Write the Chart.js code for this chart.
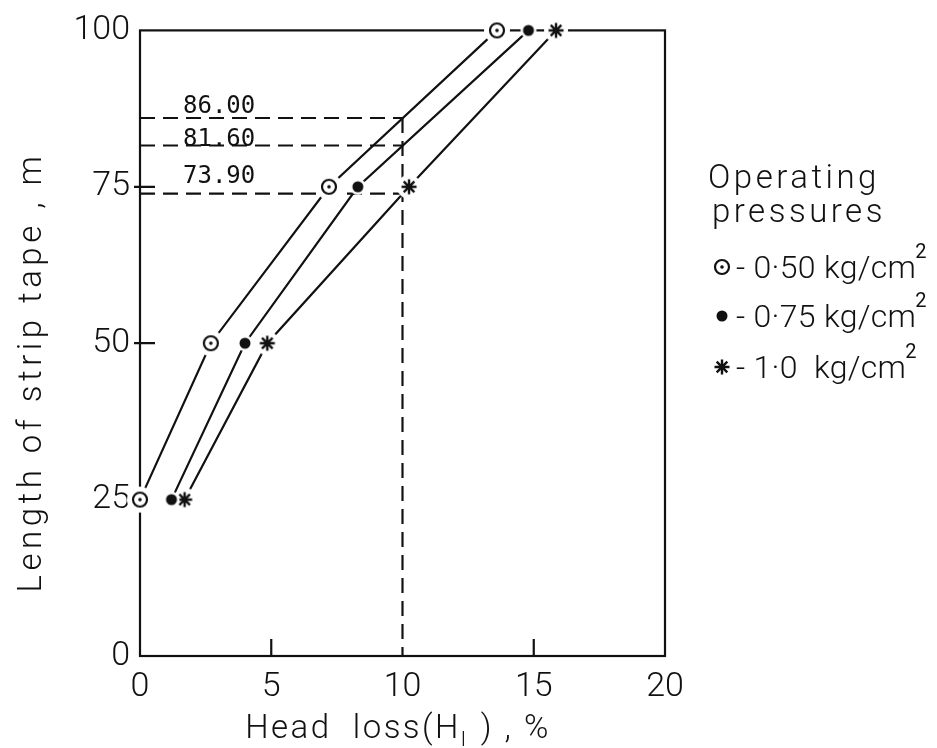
<!DOCTYPE html>
<html>
<head>
<meta charset="utf-8">
<script src="https://cdn.jsdelivr.net/npm/chart.js@4"></script>
<style>
  body { margin: 0; background: #fff; }
  #wrap { width: 937px; height: 748px; position: relative; }
</style>
</head>
<body>
<div id="wrap"><canvas id="headLossChart"></canvas></div>
<script>
// lateral length (m) and head loss (%) at each operating pressure
const lengthM = [25, 50, 75, 100];
const loss050 = [0, 2.7, 7.2, 13.6];
const loss075 = [1.2, 4.0, 8.3, 14.8];
const loss100 = [1.7, 4.85, 10.25, 15.85];

const readLoss = 10;
const readLengths = [86.00, 81.60, 73.90];
const readLabels = ["86.00", "81.60", "73.90"];

const xTicks = [0, 5, 10, 15, 20];
const yTicks = [0, 25, 50, 75, 100];
const legendTitle = ["Operating", "pressures"];
const legendLabels = ["- 0\u00b750 kg/cm", "- 0\u00b775 kg/cm", "- 1\u00b70  kg/cm"];

const ink = "#111";
const textFont = "Roboto, 'DejaVu Sans', sans-serif";

// marker images, each with a white halo so lines stop short of the symbol
function makeMarker(kind, halo) {
  const c = document.createElement("canvas");
  c.width = 28; c.height = 28;
  const g = c.getContext("2d");
  g.fillStyle = "#fff";
  g.beginPath(); g.arc(14, 14, halo, 0, Math.PI * 2); g.fill();
  g.strokeStyle = ink; g.fillStyle = ink; g.lineWidth = 2.2;
  if (kind === "dot") {
    g.beginPath(); g.arc(14, 14, 7, 0, Math.PI * 2); g.stroke();
    g.beginPath(); g.arc(14, 14, 1.8, 0, Math.PI * 2); g.fill();
  } else if (kind === "disc") {
    g.beginPath(); g.arc(14, 14, 5.5, 0, Math.PI * 2); g.fill();
  } else {
    g.lineWidth = 2.4;
    g.beginPath();
    for (let a = 0; a < 4; a++) {
      const t = a * Math.PI / 4;
      g.moveTo(14 - 7.5 * Math.cos(t), 14 - 7.5 * Math.sin(t));
      g.lineTo(14 + 7.5 * Math.cos(t), 14 + 7.5 * Math.sin(t));
    }
    g.stroke();
  }
  return c;
}
const markers = [makeMarker("dot", 13), makeMarker("disc", 8), makeMarker("star", 12)];

function series(xs) {
  return lengthM.map((y, i) => ({ x: xs[i], y: y }));
}

const seriesSets = [loss050, loss075, loss100].map((xs, i) => ({
  label: legendLabels[i],
  data: series(xs),
  showLine: true,
  borderColor: ink,
  borderWidth: 2.2,
  pointStyle: markers[i],
  pointRadius: 7,
  clip: false
}));

const dashStyle = { showLine: true, borderColor: ink, borderWidth: 2.2, borderDash: [15, 8], pointRadius: 0 };
const readSets = readLengths.map(v => Object.assign({
  data: [{ x: 0, y: v }, { x: readLoss, y: v }]
}, dashStyle));
readSets.push(Object.assign({
  data: [{ x: readLoss, y: Math.max(...readLengths) }, { x: readLoss, y: 0 }]
}, dashStyle));

// frame and the short inward ticks
const framePlugin = {
  id: "frame",
  beforeDatasetsDraw(chart) {
    const { ctx, chartArea: a, scales } = chart;
    ctx.save();
    ctx.strokeStyle = ink;
    ctx.lineWidth = 2.2;
    ctx.strokeRect(a.left, a.top, a.right - a.left, a.bottom - a.top);
    ctx.beginPath();
    [5, 15].forEach(v => {
      const px = scales.x.getPixelForValue(v);
      ctx.moveTo(px, a.bottom); ctx.lineTo(px, a.bottom - 17);
    });
    [50, 75].forEach(v => {
      const py = scales.y.getPixelForValue(v);
      ctx.moveTo(a.left - 6, py); ctx.lineTo(a.left + 15, py);
    });
    ctx.stroke();
    ctx.restore();
  }
};

// axis titles, reading labels and the pressure key
const annotatePlugin = {
  id: "annotate",
  afterDraw(chart) {
    const { ctx, chartArea: a, scales } = chart;
    ctx.save();
    ctx.fillStyle = ink;

    // reading values
    ctx.font = "24px 'DejaVu Sans Mono', monospace";
    ctx.textAlign = "left";
    ctx.textBaseline = "alphabetic";
    const lift = [5, 0, 11];
    readLengths.forEach((v, i) => {
      ctx.fillText(readLabels[i], a.left + 43, scales.y.getPixelForValue(v) - lift[i]);
    });

    // y title
    ctx.font = "300 33px " + textFont;
    ctx.letterSpacing = "4.5px";
    ctx.save();
    ctx.translate(33, 372);
    ctx.rotate(-Math.PI / 2);
    ctx.textAlign = "center";
    ctx.textBaseline = "middle";
    ctx.fillText("Length of strip tape , m", 0, 0);
    ctx.restore();

    // x title with subscript
    ctx.letterSpacing = "2.5px";
    const base = 738;
    const p1 = "Head  loss(H", p2 = "l", p3 = " ) , %";
    ctx.textAlign = "left";
    ctx.font = "300 33px " + textFont;
    const w1 = ctx.measureText(p1).width;
    const w3 = ctx.measureText(p3).width;
    ctx.font = "300 21px " + textFont;
    const w2 = ctx.measureText(p2).width;
    let x = 397 - (w1 + w2 + w3) / 2;
    ctx.font = "300 33px " + textFont;
    ctx.fillText(p1, x, base);
    x += w1;
    ctx.font = "300 21px " + textFont;
    ctx.fillText(p2, x, base + 8);
    x += w2 + 2;
    ctx.font = "300 33px " + textFont;
    ctx.fillText(p3, x, base);

    // key
    ctx.font = "300 33px " + textFont;
    ctx.letterSpacing = "3.5px";
    ctx.fillText(legendTitle[0], a.right + 43, 188);
    ctx.fillText(legendTitle[1], a.right + 47, 222);
    const rowY = [267, 316, 367];
    legendLabels.forEach((t, i) => {
      const m = markers[i];
      ctx.drawImage(m, a.right + 57 - m.width / 2, rowY[i] - m.height / 2);
      ctx.letterSpacing = "0.3px";
      ctx.font = "300 32px " + textFont;
      ctx.fillText(t, a.right + 71, rowY[i] + 11);
      const tw = ctx.measureText(t).width;
      ctx.font = "400 20px " + textFont;
      ctx.fillText("2", a.right + 71 + tw - 1, rowY[i] - 9);
    });
    ctx.restore();
  }
};

const tickFont = { family: textFont, size: 34, weight: 300 };

new Chart(document.getElementById("headLossChart"), {
  type: "scatter",
  data: { datasets: seriesSets.concat(readSets) },
  options: {
    responsive: true,
    maintainAspectRatio: false,
    animation: false,
    layout: { padding: { top: 23, right: 272, left: 0, bottom: 0 } },
    plugins: { legend: { display: false }, tooltip: { enabled: false } },
    scales: {
      x: {
        type: "linear",
        min: 0, max: 20,
        afterBuildTicks(scale) { scale.ticks = xTicks.map(v => ({ value: v })); },
        afterFit(scale) { scale.height = 92; },
        grid: { display: false, drawTicks: false },
        border: { display: false },
        ticks: { color: ink, font: tickFont, padding: 11 }
      },
      y: {
        type: "linear",
        min: 0, max: 100,
        afterBuildTicks(scale) { scale.ticks = yTicks.map(v => ({ value: v })); },
        afterFit(scale) { scale.width = 140; },
        grid: { display: false, drawTicks: false },
        border: { display: false },
        ticks: { color: ink, font: tickFont, padding: 10 }
      }
    }
  },
  plugins: [framePlugin, annotatePlugin]
});
</script>
</body>
</html>
